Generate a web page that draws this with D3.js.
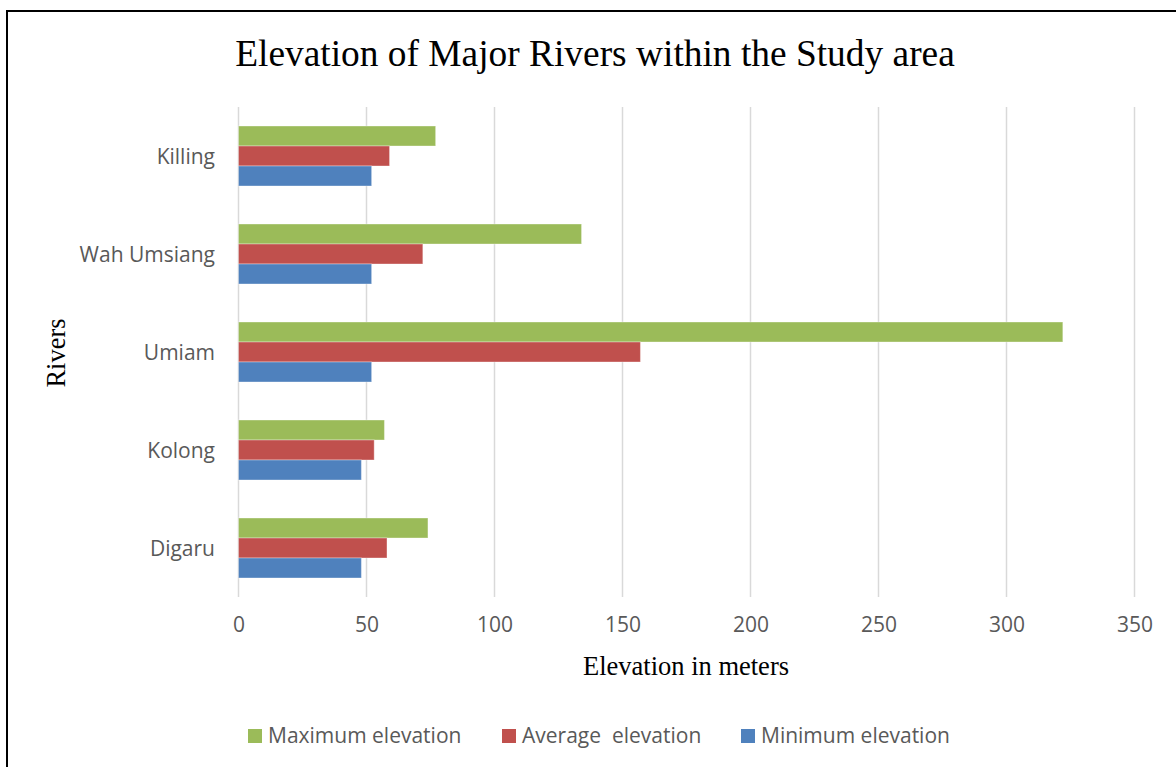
<!DOCTYPE html>
<html><head><meta charset="utf-8">
<script src="https://cdn.jsdelivr.net/npm/d3@7/dist/d3.min.js"></script>
<style>html,body{margin:0;padding:0;background:#fff;overflow:hidden}</style>
</head><body>
<svg id="chart" width="1176" height="767"></svg>
<script>
const categories = ["Killing", "Wah Umsiang", "Umiam", "Kolong", "Digaru"];
const seriesNames = ["Maximum elevation", "Average  elevation", "Minimum elevation"];
const maxElevation = [77, 134, 322, 57, 74];
const avgElevation = [59, 72, 157, 53, 58];
const minElevation = [52, 52, 52, 48, 48];
const xTicks = [0, 50, 100, 150, 200, 250, 300, 350];
const colors = ["#9BBB59", "#C0504D", "#4F81BD"];
const seriesValues = [maxElevation, avgElevation, minElevation];

const svg = d3.select("#chart");
const sans = "'Open Sans', sans-serif";
const serif = "'Liberation Serif', 'Times New Roman', serif";

// border
svg.append("rect").attr("x", 7).attr("y", 11).attr("width", 1200).attr("height", 800)
  .attr("fill", "none").attr("stroke", "#000").attr("stroke-width", 2);

const x = d3.scaleLinear().domain([0, 350]).range([238.5, 1134.5]);
const y = d3.scaleBand().domain(categories).range([107, 597]).paddingInner(0.388).paddingOuter(0.194);
const ySub = d3.scaleBand().domain(d3.range(3)).range([0, y.bandwidth()]);

// grid
svg.append("g").selectAll("line").data(xTicks).join("line")
  .attr("x1", d => x(d)).attr("x2", d => x(d)).attr("y1", 107).attr("y2", 597)
  .attr("stroke", "#D9D9D9").attr("stroke-width", 1.5);

// bars
const groups = svg.append("g").selectAll("g").data(categories).join("g")
  .attr("transform", c => `translate(0,${y(c)})`);
groups.selectAll("rect").data((c, i) => seriesValues.map((s, k) => ({k, v: s[i]}))).join("rect")
  .attr("x", x(0)).attr("y", d => ySub(d.k)).attr("height", ySub.bandwidth())
  .attr("width", d => x(d.v) - x(0)).attr("fill", d => colors[d.k])
  .attr("stroke", "#fff").attr("stroke-opacity", 0.35).attr("stroke-width", 1);

// x axis labels
const xAxis = d3.axisBottom(x).tickValues(xTicks).tickSize(0).tickPadding(0);
const gx = svg.append("g").attr("transform", "translate(0,617)").call(xAxis);
gx.select(".domain").remove();
gx.selectAll("text").attr("font-family", sans).attr("font-size", 21).attr("fill", "#595959").attr("dy", "0.71em");

// y axis labels
const yAxis = d3.axisLeft(y).tickSize(0).tickPadding(0);
const gy = svg.append("g").attr("transform", "translate(215,0)").call(yAxis);
gy.select(".domain").remove();
gy.selectAll("text").attr("font-family", sans).attr("font-size", 21).attr("fill", "#595959").attr("dy", "0.36em");

// title
svg.append("text").attr("x", 595).attr("y", 66).attr("text-anchor", "middle")
  .attr("font-family", serif).attr("font-size", 37.4).attr("fill", "#000")
  .text("Elevation of Major Rivers within the Study area");

svg.append("text").attr("x", 686).attr("y", 675).attr("text-anchor", "middle")
  .attr("font-family", serif).attr("font-size", 26.5).attr("fill", "#000")
  .text("Elevation in meters");

svg.append("text").attr("transform", "translate(65,353) rotate(-90)").attr("text-anchor", "middle")
  .attr("font-family", serif).attr("font-size", 26.5).attr("fill", "#000")
  .text("Rivers");

// legend
const legendX = [248, 502, 741];
const lg = svg.append("g").selectAll("g").data(seriesNames).join("g")
  .attr("transform", (d, i) => `translate(${legendX[i]},729)`);
lg.append("rect").attr("width", 14).attr("height", 14).attr("fill", (d, i) => colors[i]);
lg.append("text").attr("x", 20).attr("y", 14).attr("font-family", sans).attr("font-size", 21)
  .attr("fill", "#595959").attr("xml:space", "preserve").style("white-space", "pre").text(d => d);
</script>
</body></html>
